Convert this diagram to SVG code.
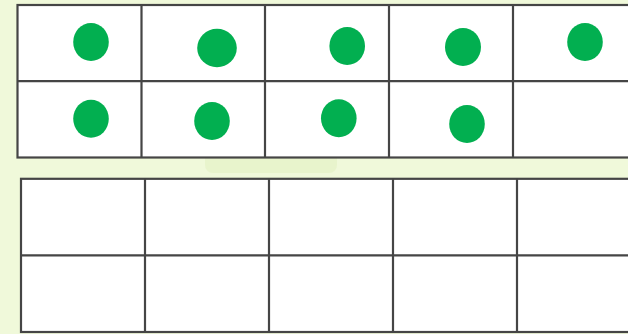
<svg xmlns="http://www.w3.org/2000/svg" width="628" height="334" viewBox="0 0 628 334">
<style>
.grid{fill:#ffffff;stroke:#454545;stroke-width:2.2}
.ln{stroke:#454545;stroke-width:2.2;fill:none}
.dot{fill:#02af50}
</style>
<rect width="628" height="334" fill="#f0f9da"/>
<rect x="205" y="150" width="132" height="23" rx="8" fill="#e6f2c8" opacity="0.8"/>
<g id="top-frame">
<rect class="grid" x="17.5" y="5" width="620" height="152.5"/>
<path class="ln" d="M17.5 81.2H640M141.5 5V157.5M265 5V157.5M389 5V157.5M513 5V157.5"/>
</g>
<g id="bottom-frame">
<rect class="grid" x="21" y="178.8" width="620" height="153.2"/>
<path class="ln" d="M21 255.3H640M145 178.8V332M269 178.8V332M393 178.8V332M517 178.8V332"/>
</g>
<g id="counters">
<ellipse class="dot" cx="91" cy="42" rx="17.8" ry="19"/>
<ellipse class="dot" cx="217" cy="48" rx="19.8" ry="19.2"/>
<ellipse class="dot" cx="347.2" cy="46" rx="17.8" ry="19"/>
<ellipse class="dot" cx="463" cy="47" rx="18" ry="19"/>
<ellipse class="dot" cx="585" cy="42" rx="17.8" ry="19"/>
<ellipse class="dot" cx="91" cy="118.7" rx="17.8" ry="19"/>
<ellipse class="dot" cx="212" cy="121" rx="17.8" ry="19"/>
<ellipse class="dot" cx="338.8" cy="118.3" rx="17.8" ry="19"/>
<ellipse class="dot" cx="467" cy="124" rx="17.8" ry="19"/>
</g>
</svg>
